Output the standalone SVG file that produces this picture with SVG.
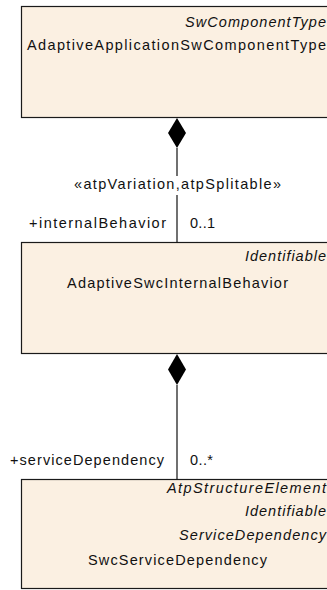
<svg xmlns="http://www.w3.org/2000/svg" width="327" height="590" viewBox="0 0 327 590">
<style>
.box{fill:#FBF0E2;stroke:#1a1a1a;stroke-width:1.2}
text{font-family:"Liberation Sans",Arial,sans-serif;font-size:14.5px;fill:#111}
.it{font-style:italic;text-anchor:end}
.ln{stroke:#111;stroke-width:1.2;fill:none}
.dm{fill:#000}
</style>
<rect width="327" height="590" fill="#fff"/>
<g id="node-AdaptiveApplicationSwComponentType">
<rect class="box" x="21.5" y="6.5" width="330" height="111"/>
<text class="it" x="326" y="27" textLength="141" lengthAdjust="spacing">SwComponentType</text>
<text x="27" y="50" textLength="299" lengthAdjust="spacing">AdaptiveApplicationSwComponentType</text>
</g>
<g id="node-AdaptiveSwcInternalBehavior">
<rect class="box" x="21.5" y="242.5" width="330" height="111"/>
<text class="it" x="326" y="261" textLength="81" lengthAdjust="spacing">Identifiable</text>
<text x="67" y="288" textLength="221" lengthAdjust="spacing">AdaptiveSwcInternalBehavior</text>
</g>
<g id="node-SwcServiceDependency">
<rect class="box" x="21.5" y="479.5" width="330" height="109"/>
<text class="it" x="326" y="493" textLength="159" lengthAdjust="spacing">AtpStructureElement</text>
<text class="it" x="326" y="516" textLength="81" lengthAdjust="spacing">Identifiable</text>
<text class="it" x="326" y="540" textLength="147" lengthAdjust="spacing">ServiceDependency</text>
<text x="88" y="565" textLength="179" lengthAdjust="spacing">SwcServiceDependency</text>
</g>
<g id="connectors">
<g id="edge-internalBehavior">
<path class="dm" d="M177,118 L186,133 L177,148 L168,133 Z"/>
<line class="ln" x1="177" y1="148" x2="177" y2="176"/>
<line class="ln" x1="177" y1="195" x2="177" y2="242.5"/>
<text x="74" y="189" textLength="207" lengthAdjust="spacing">«atpVariation,atpSplitable»</text>
<text x="29" y="228" textLength="137" lengthAdjust="spacing">+internalBehavior</text>
<text x="190" y="228" textLength="25" lengthAdjust="spacing">0..1</text>
</g>
<g id="edge-serviceDependency">
<path class="dm" d="M177,354 L186,369.5 L177,385 L168,369.5 Z"/>
<line class="ln" x1="177" y1="385" x2="177" y2="479.5"/>
<text x="10" y="465" textLength="154" lengthAdjust="spacing">+serviceDependency</text>
<text x="190" y="465" textLength="23" lengthAdjust="spacing">0..*</text>
</g>
</g>
</svg>
